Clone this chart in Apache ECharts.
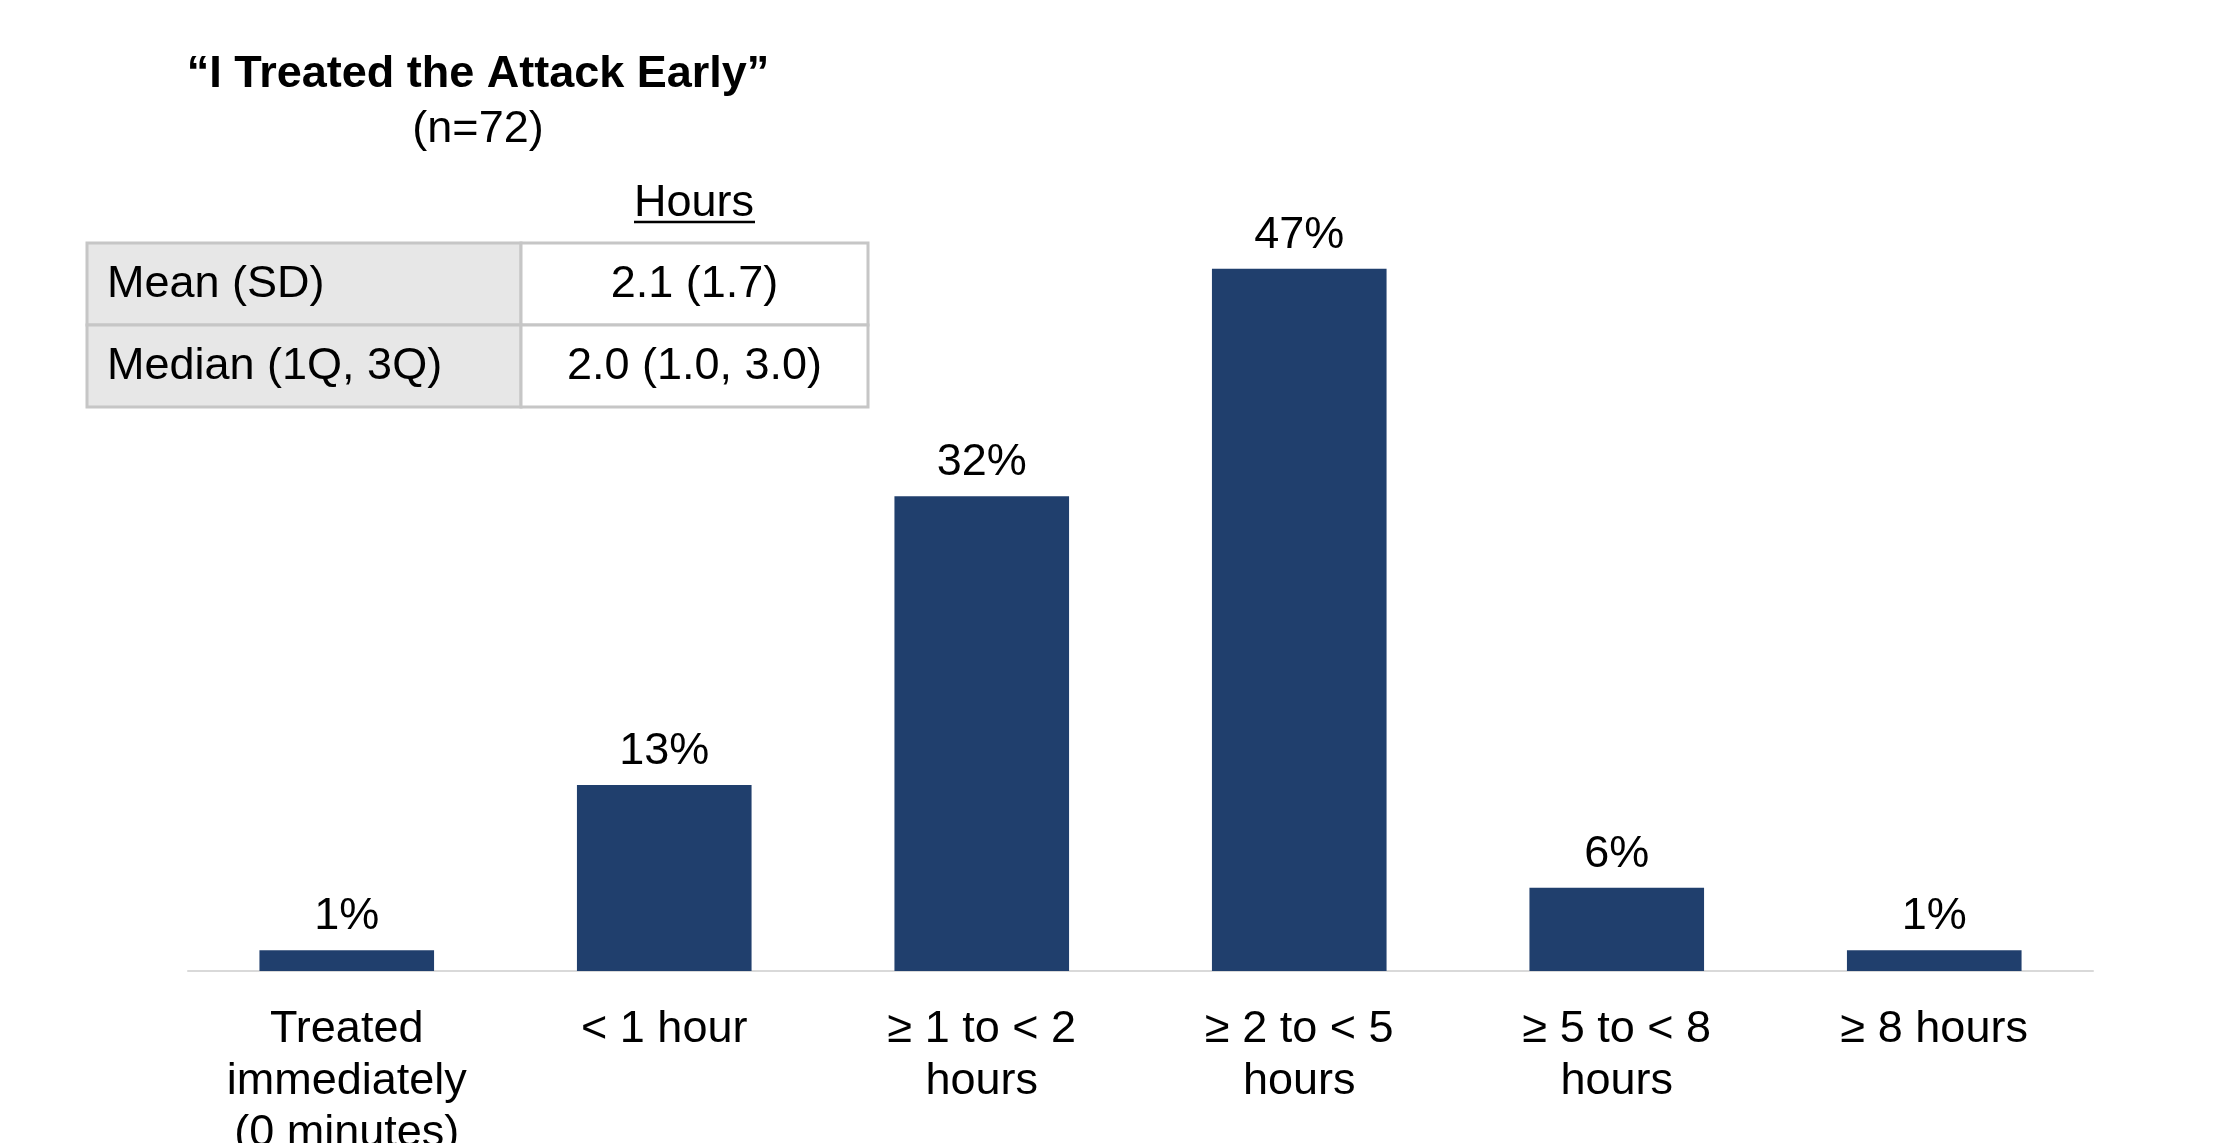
<!DOCTYPE html>
<html>
<head>
<meta charset="utf-8">
<script src="https://cdn.jsdelivr.net/npm/echarts@6/dist/echarts.min.js"></script>
<style>
html,body{margin:0;padding:0;background:#fff;}
#chart{width:2213px;height:1143px;}
</style>
</head>
<body>
<div id="chart"></div>
<script>
// ---- data ----
const categories = [
  'Treated\nimmediately\n(0 minutes)',
  '< 1 hour',
  '≥ 1 to < 2\nhours',
  '≥ 2 to < 5\nhours',
  '≥ 5 to < 8\nhours',
  '≥ 8 hours'
];
const percentValues = [1.4, 12.5, 31.9, 47.2, 5.6, 1.4];
const percentLabels = ['1%', '13%', '32%', '47%', '6%', '1%'];
const titleText = '\u201cI Treated the Attack Early\u201d';
const subtitleText = '(n=72)';
const tableHeader = 'Hours';
const tableRowLabels = ['Mean (SD)', 'Median (1Q, 3Q)'];
const tableRowValues = ['2.1 (1.7)', '2.0 (1.0, 3.0)'];

// ---- chart ----
const FONT = '"Liberation Sans", Arial, sans-serif';
const BAR = '#203F6D';
const chart = echarts.init(document.getElementById('chart'), null, {renderer: 'canvas'});

const tblX = 87, tblY = 243, col1W = 434, col2W = 347, rowH = 82;
const graphics = [
  {type: 'text', x: 478, y: 75, style: {text: titleText, font: 'bold 45px ' + FONT, fill: '#000', align: 'center', verticalAlign: 'middle'}},
  {type: 'text', x: 478, y: 130, style: {text: subtitleText, font: '45px ' + FONT, fill: '#000', align: 'center', verticalAlign: 'middle'}},
  {type: 'text', x: 694, y: 204, style: {text: tableHeader, font: '45px ' + FONT, fill: '#000', align: 'center', verticalAlign: 'middle'}},
  {type: 'line', shape: {x1: 634, y1: 222, x2: 755, y2: 222}, style: {stroke: '#000', lineWidth: 2.5}}
];
tableRowLabels.forEach((lab, i) => {
  const y = tblY + i * rowH;
  graphics.push({type: 'rect', shape: {x: tblX, y: y, width: col1W, height: rowH}, style: {fill: '#e7e7e7', stroke: '#c6c6c6', lineWidth: 3}});
  graphics.push({type: 'rect', shape: {x: tblX + col1W, y: y, width: col2W, height: rowH}, style: {fill: '#ffffff', stroke: '#c6c6c6', lineWidth: 3}});
  graphics.push({type: 'text', x: tblX + 20, y: y + rowH / 2 + 1, style: {text: lab, font: '45px ' + FONT, fill: '#000', align: 'left', verticalAlign: 'middle'}});
  graphics.push({type: 'text', x: tblX + col1W + col2W / 2, y: y + rowH / 2 + 1, style: {text: tableRowValues[i], font: '45px ' + FONT, fill: '#000', align: 'center', verticalAlign: 'middle'}});
});

chart.setOption({
  backgroundColor: '#fff',
  animation: false,
  grid: {left: 188, right: 120, top: 227, bottom: 172, outerBoundsMode: 'none', containLabel: false},
  xAxis: {
    type: 'category',
    data: categories,
    axisLine: {show: true, lineStyle: {color: '#d9d9d9', width: 2}},
    axisTick: {show: false},
    axisLabel: {interval: 0, margin: 33, fontSize: 45, lineHeight: 52, color: '#000', fontFamily: FONT}
  },
  yAxis: {
    type: 'value', min: 0, max: 50, show: false,
    splitLine: {show: false}
  },
  series: [{
    type: 'bar',
    data: percentValues,
    barWidth: '55%',
    itemStyle: {color: BAR},
    label: {
      show: true, position: 'top', distance: 11,
      fontSize: 45, color: '#000', fontFamily: FONT,
      formatter: p => percentLabels[p.dataIndex]
    }
  }],
  graphic: graphics
});
</script>
</body>
</html>
